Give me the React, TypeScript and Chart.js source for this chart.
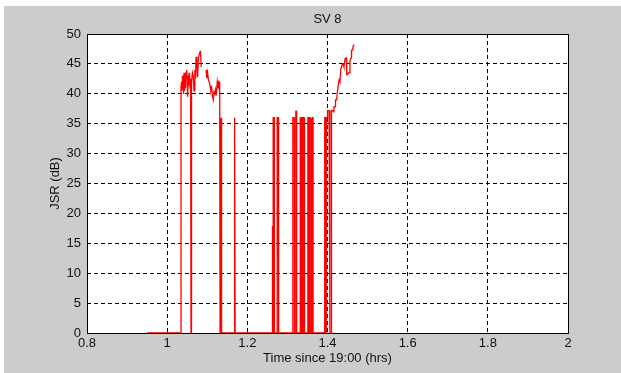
import React, { useEffect, useRef } from "react";
import { Chart, registerables } from "chart.js";

Chart.register(...registerables);

const chartTitle = "SV 8";
const xAxisLabel = "Time since 19:00 (hrs)";
const yAxisLabel = "JSR (dB)";

const xTicks = [0.8, 1, 1.2, 1.4, 1.6, 1.8, 2];
const yTicks = [0, 5, 10, 15, 20, 25, 30, 35, 40, 45, 50];

// time since 19:00 (hours)
const timeHrs = [
  0.95, 1.0345,
  1.0345, 1.036, 1.037, 1.038, 1.039, 1.04, 1.041, 1.042, 1.043, 1.044, 1.045, 1.046, 1.047,
  1.048, 1.049, 1.05, 1.051, 1.052, 1.053, 1.054, 1.055, 1.056, 1.057, 1.058, 1.059, 1.0595,
  1.0605, 1.061, 1.063, 1.065, 1.067, 1.069, 1.071, 1.072, 1.074, 1.076, 1.078, 1.08, 1.082,
  1.083, 1.085,
  1.09,
  1.097, 1.099, 1.101, 1.103, 1.105, 1.107, 1.109, 1.111, 1.113, 1.115, 1.117, 1.119, 1.121,
  1.123, 1.125, 1.127, 1.128, 1.13, 1.131, 1.132, 1.1335, 1.1335, 1.135, 1.1355, 1.136,
  1.167, 1.1675, 1.169, 1.1695,
  1.262, 1.2625, 1.263, 1.2645, 1.2645, 1.267, 1.2675,
  1.2745, 1.2745, 1.2775, 1.278,
  1.3135, 1.3135, 1.317, 1.3175,
  1.321, 1.321, 1.3225, 1.323,
  1.332, 1.332, 1.334, 1.334, 1.336, 1.336, 1.338, 1.338, 1.3395, 1.3395, 1.3415, 1.3415,
  1.343, 1.343, 1.3435,
  1.351, 1.351, 1.353, 1.353, 1.355, 1.355, 1.357, 1.357, 1.359, 1.359, 1.361, 1.361, 1.363,
  1.363, 1.364, 1.364,
  1.393, 1.393, 1.395, 1.395, 1.397, 1.397, 1.399, 1.4, 1.404, 1.406, 1.406, 1.409, 1.41,
  1.413, 1.415, 1.416, 1.419, 1.42, 1.423, 1.424, 1.426, 1.427, 1.429, 1.431, 1.433, 1.436,
  1.439, 1.441, 1.444, 1.447, 1.448, 1.45, 1.452, 1.455, 1.456, 1.459, 1.46, 1.463, 1.464,
  1.467,
];

// jammer-to-signal ratio (dB); null = no data
const jsrDb: (number | null)[] = [
  0, 0,
  41.0, 42.0, 40.5, 43.0, 41.0, 42.5, 40.0, 43.5, 43.5, 40.5, 42.0, 41.0, 43.5,
  44.0, 44.0, 43.0, 39.5, 41.5, 43.0, 42.0, 43.5, 43.0, 41.0, 42.5, 42.0, 0,
  21.4, 42.0, 43.5, 43.0, 40.5, 44.0, 42.5, 46.2, 45.0, 42.8, 46.0, 46.5, 47.0,
  47.2, 44.5,
  null,
  44.0, 42.6, 43.5, 42.3, 42.0, 41.3, 40.5, 41.0, 39.6, 39.0, 40.3, 40.0, 40.8,
  40.2, 42.0, 41.0, 42.2, 40.8, 42.0, 0, 0, 36.0, 18.7, 36.0, 0,
  0, 36.0, 36.0, 0,
  0, 17.9, 0, 0, 36.0, 36.0, 0,
  0, 36.0, 36.0, 0,
  0, 36.0, 36.0, 0,
  0, 37.1, 37.1, 0,
  0, 36, 36, 0, 0, 36, 36, 0, 0, 36, 36, 0,
  0, 36, 0,
  0, 36, 36, 0, 0, 36, 36, 0, 0, 36, 36, 0, 0,
  36, 36, 0,
  0, 36, 36, 0, 0, 36, 36, 37.2, 37.2, 37.0, 0, 0, 37.2,
  37.2, 37.0, 37.8, 37.8, 39.0, 39.0, 40.0, 40.0, 41.5, 42.3, 42.0, 44.0, 44.8,
  45.0, 44.5, 45.9, 46.0, 43.2, 43.2, 43.5, 43.5, 45.5, 46.0, 47.3, 47.3, 48.0,
  48.2,
];

const FONT = '"Liberation Sans", Arial, sans-serif';
const TEXT = "#111111";

export default function App() {
  const canvasRef = useRef<HTMLCanvasElement | null>(null);

  useEffect(() => {
    const canvas = canvasRef.current;
    if (!canvas) return;

    const points = timeHrs.map((t, i) => ({ x: t, y: jsrDb[i] }));

    const matlabLook = {
      id: "matlabLook",
      beforeDraw(chart: any) {
        const { ctx, chartArea: a } = chart;
        ctx.save();
        ctx.fillStyle = "#ffffff";
        ctx.fillRect(0, 0, chart.width, chart.height);
        ctx.fillStyle = "#cccccc";
        ctx.fillRect(4, 6, chart.width - 4, chart.height - 6);
        ctx.fillStyle = "#ffffff";
        ctx.fillRect(a.left, a.top, a.right - a.left, a.bottom - a.top);
        ctx.restore();
      },
      beforeDatasetsDraw(chart: any) {
        const { ctx, chartArea: a } = chart;
        ctx.save();
        ctx.strokeStyle = "#000000";
        ctx.lineWidth = 1;
        ctx.setLineDash([]);
        ctx.strokeRect(a.left + 0.5, a.top + 0.5, a.right - a.left, a.bottom - a.top);
        ctx.restore();
      },
      afterDraw(chart: any) {
        const { ctx, chartArea: a } = chart;
        const cx = (a.left + a.right) / 2;
        const cy = (a.top + a.bottom) / 2;
        ctx.save();
        ctx.fillStyle = TEXT;
        ctx.font = `13px ${FONT}`;
        ctx.textAlign = "center";
        ctx.textBaseline = "middle";
        ctx.fillText(chartTitle, cx, 19);
        ctx.fillText(xAxisLabel, cx, 358);
        ctx.translate(55, cy);
        ctx.rotate(-Math.PI / 2);
        ctx.fillText(yAxisLabel, 0, 0);
        ctx.restore();
      },
    };

    const chart = new Chart(canvas, {
      type: "scatter",
      data: {
        datasets: [
          {
            data: points as any,
            showLine: true,
            borderColor: "#ff0000",
            backgroundColor: "#ff0000",
            borderWidth: 1.3,
            pointRadius: 0,
            pointHoverRadius: 0,
            tension: 0,
            fill: false,
            spanGaps: false,
          },
        ],
      },
      options: {
        animation: false,
        responsive: true,
        maintainAspectRatio: false,
        events: [],
        layout: { padding: { left: 0, right: 53, top: 34, bottom: 0 } },
        plugins: {
          legend: { display: false },
          tooltip: { enabled: false },
          title: { display: false },
        },
        scales: {
          x: {
            type: "linear",
            min: 0.8,
            max: 2,
            afterBuildTicks: (axis: any) => {
              axis.ticks = xTicks.map((v) => ({ value: v }));
            },
            afterFit: (axis: any) => {
              axis.height = 40;
            },
            ticks: {
              autoSkip: false,
              maxRotation: 0,
              padding: 3,
              color: TEXT,
              font: { family: FONT, size: 13 },
              callback: (v: any) => String(Math.round(Number(v) * 10) / 10),
            },
            grid: {
              color: "#000000",
              lineWidth: 1,
              drawTicks: false,
            },
            border: { display: false, dash: [4, 3] },
          },
          y: {
            type: "linear",
            min: 0,
            max: 50,
            afterBuildTicks: (axis: any) => {
              axis.ticks = yTicks.map((v) => ({ value: v }));
            },
            afterFit: (axis: any) => {
              axis.width = 87;
            },
            ticks: {
              autoSkip: false,
              padding: 6,
              color: TEXT,
              font: { family: FONT, size: 13 },
              callback: (v: any) => String(v),
            },
            grid: {
              color: "#000000",
              lineWidth: 1,
              drawTicks: false,
            },
            border: { display: false, dash: [4, 3] },
          },
        },
      },
      plugins: [matlabLook],
    });

    return () => {
      chart.destroy();
    };
  }, []);

  return (
    <div style={{ position: "fixed", left: 0, top: 0, width: 621, height: 373 }}>
      <canvas ref={canvasRef} />
    </div>
  );
}
